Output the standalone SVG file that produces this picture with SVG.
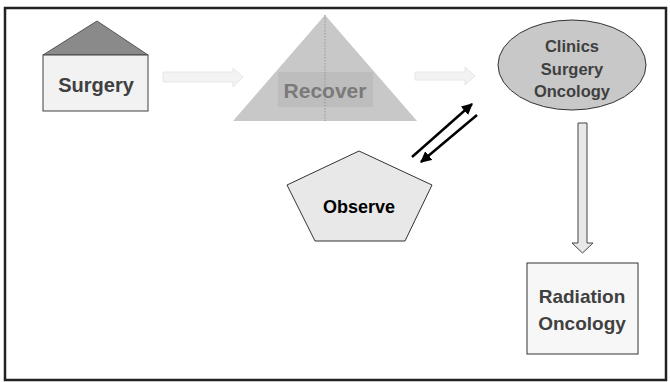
<svg xmlns="http://www.w3.org/2000/svg" width="670" height="382" viewBox="0 0 670 382">
<style>
text{font-family:"Liberation Sans",Arial,sans-serif;font-weight:bold;text-anchor:middle}
.dk{fill:#404040}
.ln{stroke:#000;stroke-width:2.5;fill:none}
.lt{fill:#f3f3f3;stroke:#e6e6e6;stroke-width:1}
</style>
<defs>
<marker id="ah" viewBox="0 0 10 10" refX="9" refY="5" markerWidth="4.5" markerHeight="4.5" orient="auto"><path d="M0,0 L10,5 L0,10 z" fill="#000"/></marker>
</defs>
<rect x="5" y="8" width="661" height="372" fill="#fff" stroke="#222" stroke-width="2.5"/>
<g id="surgery">
<polygon points="97,21 148,55 43,55" fill="#8a8a8a" stroke="#555" stroke-width="1"/>
<rect x="43" y="55" width="105" height="56" fill="#f2f2f2" stroke="#404040" stroke-width="1"/>
<text x="96" y="92" font-size="20" class="dk">Surgery</text>
</g>
<g id="recover">
<polygon points="325,15 417,121 233,121" fill="#c8c8c8"/>
<rect x="278" y="72" width="95" height="35" fill="#bdbdbd"/>
<line x1="325" y1="15" x2="325" y2="121" stroke="#999" stroke-width="1" stroke-dasharray="1.5,1.5"/>
<text x="325" y="98" font-size="21" fill="#7a7a7a">Recover</text>
</g>
<g id="clinics">
<ellipse cx="572" cy="65" rx="74" ry="45" fill="#c8c8c8" stroke="#333" stroke-width="1"/>
<text x="572" y="52" font-size="16.5" class="dk">Clinics</text>
<text x="572" y="75" font-size="16.5" class="dk">Surgery</text>
<text x="572" y="97" font-size="16.5" class="dk">Oncology</text>
</g>
<g id="observe">
<polygon points="359,151 432,185 405,241 315,241 287,185" fill="#e8e8e8" stroke="#333" stroke-width="1"/>
<text x="359" y="213" font-size="18" fill="#000">Observe</text>
</g>
<g id="radiation">
<rect x="527" y="263" width="111" height="91" fill="#f7f7f7" stroke="#333" stroke-width="1"/>
<text x="582" y="303" font-size="19" class="dk">Radiation</text>
<text x="582" y="330" font-size="19" class="dk">Oncology</text>
</g>
<g id="connectors">
<polygon class="lt" points="163,72 233,72 233,68 243,77 233,87 233,82 163,82"/>
<polygon class="lt" points="415,72 465,72 465,67 475,76 465,85 465,80 415,80"/>
<line class="ln" x1="412" y1="157" x2="472" y2="104" marker-end="url(#ah)"/>
<line class="ln" x1="477" y1="115" x2="421" y2="162" marker-end="url(#ah)"/>
<polygon points="578,123 587,123 587,243 593,243 582.5,253 572,243 578,243" fill="#e8e8e8" stroke="#444" stroke-width="1"/>
</g>
</svg>
